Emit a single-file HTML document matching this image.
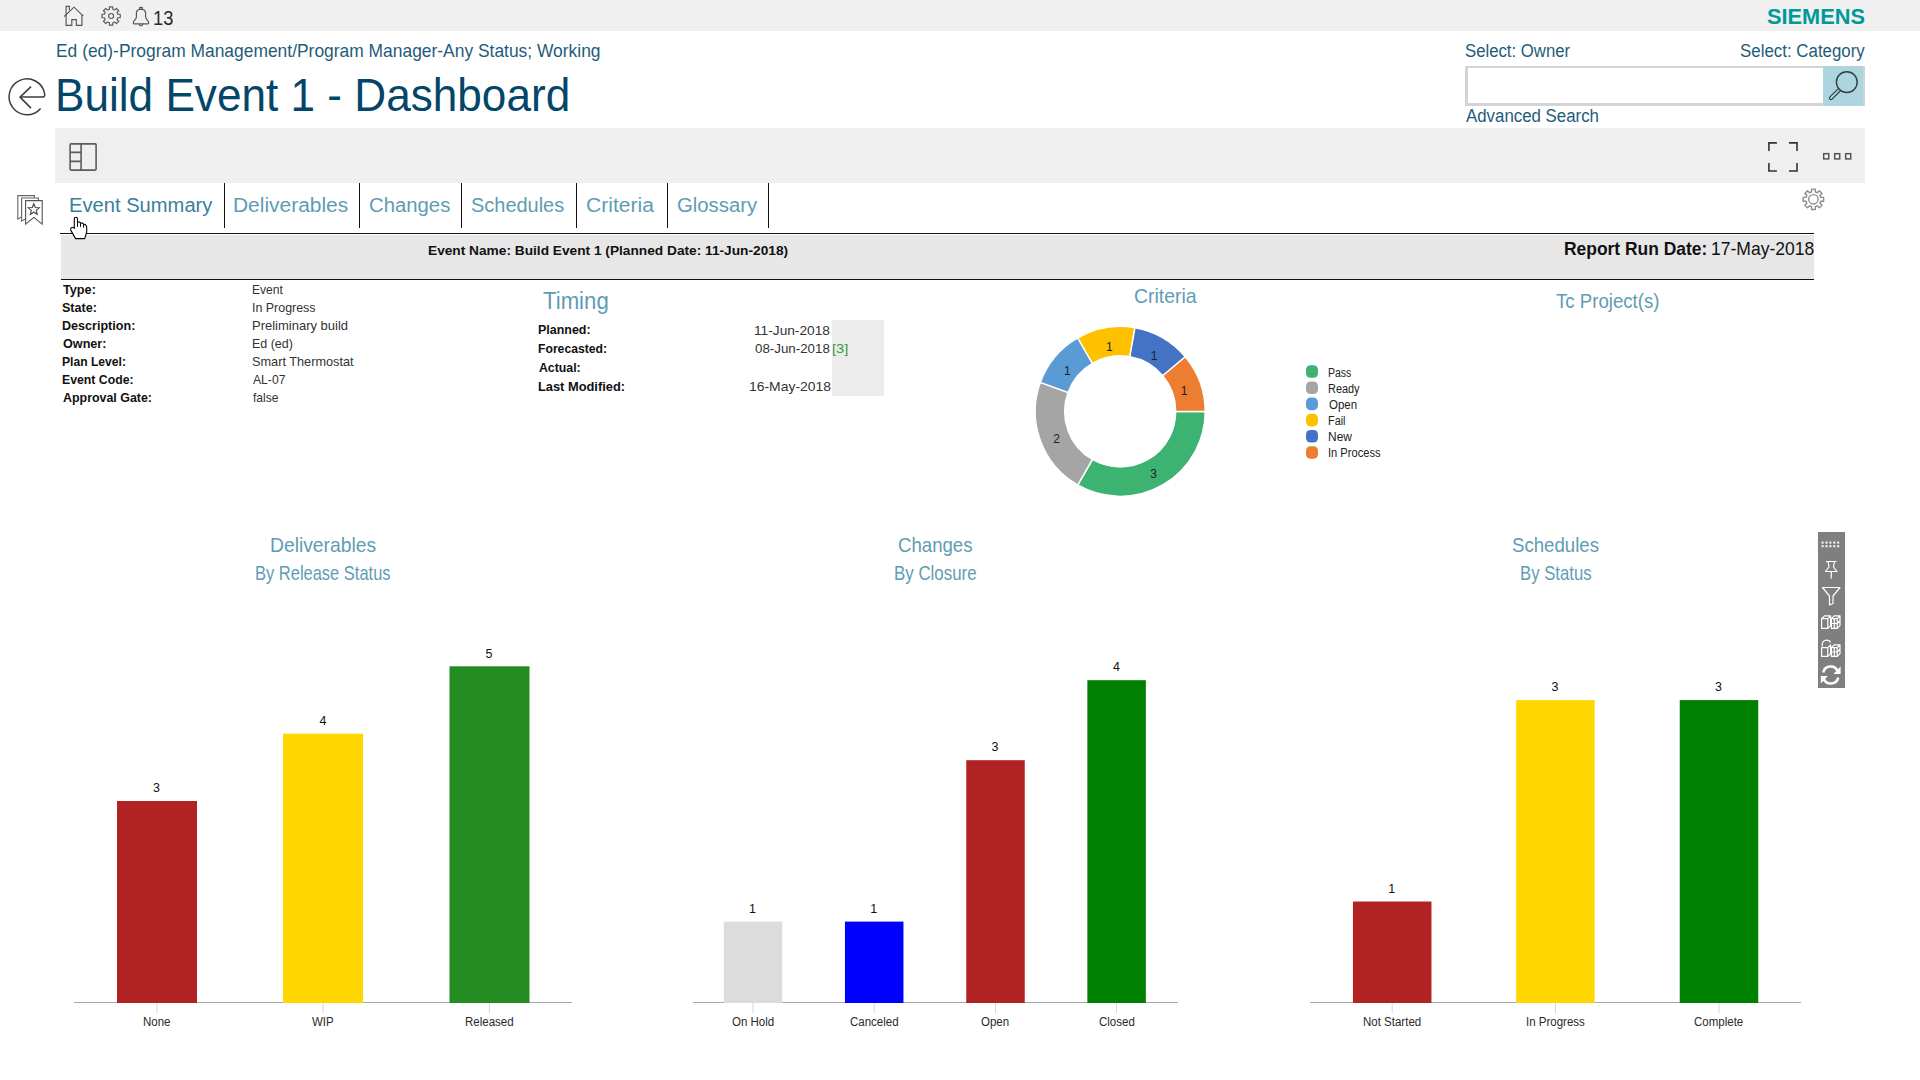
<!DOCTYPE html>
<html><head><meta charset="utf-8"><title>Build Event 1 - Dashboard</title>
<style>
html,body{margin:0;padding:0;background:#fff;width:1920px;height:1080px;overflow:hidden;position:relative}
.t{position:absolute;font-family:"Liberation Sans",sans-serif;line-height:1;white-space:nowrap}
</style></head><body>
<div style="position:absolute;left:0px;top:0px;width:1920px;height:31px;background:#f0f0f0;"></div><div style="position:absolute;left:1465px;top:66px;width:400px;height:40px;background:#fff;box-sizing:border-box;border:2px solid #d4d4d4;border-left-width:3px;border-bottom-width:3px;"></div><div style="position:absolute;left:1823px;top:66px;width:40px;height:39.5px;background:#acd5df;"></div><div style="position:absolute;left:55px;top:128px;width:1810px;height:55px;background:#efefef;"></div><div style="position:absolute;left:60px;top:233px;width:1754px;height:1px;background:#111;"></div><div style="position:absolute;left:61px;top:235px;width:1753px;height:44px;background:#e8e7e8;"></div><div style="position:absolute;left:61px;top:279px;width:1753px;height:1px;background:#111;"></div><div style="position:absolute;left:224px;top:183px;width:1px;height:45px;background:#111;"></div><div style="position:absolute;left:359px;top:183px;width:1px;height:45px;background:#111;"></div><div style="position:absolute;left:461px;top:183px;width:1px;height:45px;background:#111;"></div><div style="position:absolute;left:576px;top:183px;width:1px;height:45px;background:#111;"></div><div style="position:absolute;left:667px;top:183px;width:1px;height:45px;background:#111;"></div><div style="position:absolute;left:768px;top:183px;width:1px;height:45px;background:#111;"></div><div style="position:absolute;left:832px;top:320px;width:52px;height:76px;background:#ececec;"></div><div style="position:absolute;left:1818px;top:532px;width:27px;height:156px;background:#7f7f7f;"></div>
<svg width='1920' height='1080' style='position:absolute;left:0;top:0'><line x1='74' y1='1002.5' x2='572' y2='1002.5' stroke='#a8a8a8' stroke-width='1'/><rect x='117.00' y='801.00' width='80' height='202.00' fill='#b22222'/><line x1='157' y1='1003' x2='157' y2='1013' stroke='#d2d8de' stroke-width='1'/><rect x='283.00' y='733.70' width='80' height='269.30' fill='#ffd700'/><line x1='323' y1='1003' x2='323' y2='1013' stroke='#d2d8de' stroke-width='1'/><rect x='449.50' y='666.30' width='80' height='336.70' fill='#228b22'/><line x1='489.5' y1='1003' x2='489.5' y2='1013' stroke='#d2d8de' stroke-width='1'/><line x1='693' y1='1002.5' x2='1178' y2='1002.5' stroke='#a8a8a8' stroke-width='1'/><rect x='723.75' y='921.60' width='58.5' height='81.40' fill='#dcdcdc'/><line x1='753' y1='1003' x2='753' y2='1013' stroke='#d2d8de' stroke-width='1'/><rect x='844.95' y='921.60' width='58.5' height='81.40' fill='#0000ff'/><line x1='874.2' y1='1003' x2='874.2' y2='1013' stroke='#d2d8de' stroke-width='1'/><rect x='966.25' y='760.20' width='58.5' height='242.80' fill='#b22222'/><line x1='995.5' y1='1003' x2='995.5' y2='1013' stroke='#d2d8de' stroke-width='1'/><rect x='1087.35' y='680.20' width='58.5' height='322.80' fill='#008000'/><line x1='1116.6' y1='1003' x2='1116.6' y2='1013' stroke='#d2d8de' stroke-width='1'/><line x1='1310' y1='1002.5' x2='1801' y2='1002.5' stroke='#a8a8a8' stroke-width='1'/><rect x='1352.95' y='901.50' width='78.5' height='101.50' fill='#b22222'/><line x1='1392.2' y1='1003' x2='1392.2' y2='1013' stroke='#d2d8de' stroke-width='1'/><rect x='1516.15' y='700.10' width='78.5' height='302.90' fill='#ffd700'/><line x1='1555.4' y1='1003' x2='1555.4' y2='1013' stroke='#d2d8de' stroke-width='1'/><rect x='1679.75' y='700.10' width='78.5' height='302.90' fill='#008000'/><line x1='1719' y1='1003' x2='1719' y2='1013' stroke='#d2d8de' stroke-width='1'/><path d='M1205.20,411.40 A85,85 0 0 1 1077.70,485.01 L1092.45,459.46 A55.5,55.5 0 0 0 1175.70,411.40 Z' fill='#3cb371' stroke='#fff' stroke-width='1.5'/><path d='M1077.70,485.01 A85,85 0 0 1 1040.33,382.33 L1068.05,392.42 A55.5,55.5 0 0 0 1092.45,459.46 Z' fill='#a5a5a5' stroke='#fff' stroke-width='1.5'/><path d='M1040.33,382.33 A85,85 0 0 1 1077.70,337.79 L1092.45,363.34 A55.5,55.5 0 0 0 1068.05,392.42 Z' fill='#5b9bd5' stroke='#fff' stroke-width='1.5'/><path d='M1077.70,337.79 A85,85 0 0 1 1134.96,327.69 L1129.84,356.74 A55.5,55.5 0 0 0 1092.45,363.34 Z' fill='#ffc000' stroke='#fff' stroke-width='1.5'/><path d='M1134.96,327.69 A85,85 0 0 1 1185.31,356.76 L1162.72,375.73 A55.5,55.5 0 0 0 1129.84,356.74 Z' fill='#4472c4' stroke='#fff' stroke-width='1.5'/><path d='M1185.31,356.76 A85,85 0 0 1 1205.20,411.40 L1175.70,411.40 A55.5,55.5 0 0 0 1162.72,375.73 Z' fill='#ed7d31' stroke='#fff' stroke-width='1.5'/><rect x='1306' y='365.20' width='12' height='12.6' rx='4.6' fill='#3cb371'/><rect x='1306' y='381.40' width='12' height='12.6' rx='4.6' fill='#a5a5a5'/><rect x='1306' y='397.60' width='12' height='12.6' rx='4.6' fill='#5b9bd5'/><rect x='1306' y='413.80' width='12' height='12.6' rx='4.6' fill='#ffc000'/><rect x='1306' y='430.00' width='12' height='12.6' rx='4.6' fill='#4472c4'/><rect x='1306' y='446.20' width='12' height='12.6' rx='4.6' fill='#ed7d31'/></svg>
<svg width='1920' height='1080' style='position:absolute;left:0;top:0' fill='none'><g stroke='#555' stroke-width='1.15' stroke-linejoin='miter'><path d='M64.2,16.5 L74,7.2 L83.4,16.2'/><path d='M66.1,13.6 V25.4 H71.8 V19.6 H76.3 V25.4 H81.9 V15'/><path d='M66.1,13.6 V6.4 H69.4 V10.3'/></g><path d='M109.40,9.31 L109.40,6.86 L112.80,6.86 L112.80,9.31 L114.63,10.07 L116.36,8.33 L118.77,10.74 L117.03,12.47 L117.79,14.30 L120.24,14.30 L120.24,17.70 L117.79,17.70 L117.03,19.53 L118.77,21.26 L116.36,23.67 L114.63,21.93 L112.80,22.69 L112.80,25.14 L109.40,25.14 L109.40,22.69 L107.57,21.93 L105.84,23.67 L103.43,21.26 L105.17,19.53 L104.41,17.70 L101.96,17.70 L101.96,14.30 L104.41,14.30 L105.17,12.47 L103.43,10.74 L105.84,8.33 L107.57,10.07 Z' fill='none' stroke='#555' stroke-width='1.1' stroke-linejoin='round'/><circle cx='111.1' cy='16' r='2.5' fill='none' stroke='#555' stroke-width='1.1'/><g stroke='#555' stroke-width='1.15'><path d='M139.5,9.3 C137.4,9.9 136.4,11.3 136.4,13.1 V17.3 C136.4,18.6 133.3,21 133.3,22.4 V23.1 Q133.3,23.9 134.1,23.9 H147.9 Q148.7,23.9 148.7,23.1 V22.4 C148.7,21 145.6,18.6 145.6,17.3 V13.1 C145.6,11.3 144.6,9.9 142.5,9.3 Z'/><rect x='139.6' y='7.4' width='2.8' height='1.9' rx='0.9'/><path d='M139.1,24 C139.5,26.4 142.5,26.4 142.9,24'/></g><g stroke='#3c3c3c' stroke-width='1.5' stroke-linejoin='round'><path d='M40.6,108.4 A17.9,17.9 0 1 1 44.6,93.6 Q45.4,97.1 42,97.1 H20'/><path d='M31,86.6 L20,97.1 L31,108.1'/></g><g><circle cx='1846.8' cy='82.1' r='10.4' stroke='#2f3f44' stroke-width='1.4'/><line x1='1831' y1='98' x2='1838.6' y2='90.4' stroke='#2f3f44' stroke-width='4.2' stroke-linecap='round'/><line x1='1831' y1='98' x2='1838.6' y2='90.4' stroke='#acd5df' stroke-width='1.8' stroke-linecap='round'/></g><g stroke='#5c5c5c' stroke-width='1.6'><rect x='70.1' y='143.9' width='26' height='26.2' rx='1'/><path d='M81.1,143.9 V170.1'/><path d='M70.1,152.4 H81.1 M70.1,161.4 H81.1'/></g><g stroke='#333' stroke-width='1.6'><path d='M1768.9,150.9 V142.9 H1776.9'/><path d='M1789,142.9 H1797 V150.9'/><path d='M1768.9,163 V171 H1776.9'/><path d='M1789,171 H1797 V163'/></g><rect x='1823.7' y='153.7' width='5' height='5.2' stroke='#555' stroke-width='1.5' fill='#f8f8f8'/><rect x='1834.7' y='153.7' width='5' height='5.2' stroke='#555' stroke-width='1.5' fill='#f8f8f8'/><rect x='1845.7' y='153.7' width='5' height='5.2' stroke='#555' stroke-width='1.5' fill='#f8f8f8'/><g stroke='#666' stroke-width='1.1' fill='#fff'><path d='M17.8,219 V195.6 H34.4 V199 L21.6,199 L21.6,217 Z' fill='#fff'/><path d='M21.6,221 V198 H38.4 V201 L25.6,201 L25.6,219 Z' fill='#fff'/><path d='M25.6,224.2 V200.6 H42.2 V224.2 L33.9,217.4 Z' stroke='#555'/><path d='M33.80,203.80 L35.33,207.50 L39.32,207.81 L36.27,210.40 L37.21,214.29 L33.80,212.20 L30.39,214.29 L31.33,210.40 L28.28,207.81 L32.27,207.50 Z' stroke='#444' fill='none'/></g><path d='M1811.50,191.94 L1811.50,189.08 L1815.30,189.08 L1815.30,191.94 L1817.26,192.75 L1819.29,190.73 L1821.97,193.41 L1819.95,195.44 L1820.76,197.40 L1823.62,197.40 L1823.62,201.20 L1820.76,201.20 L1819.95,203.16 L1821.97,205.19 L1819.29,207.87 L1817.26,205.85 L1815.30,206.66 L1815.30,209.52 L1811.50,209.52 L1811.50,206.66 L1809.54,205.85 L1807.51,207.87 L1804.83,205.19 L1806.85,203.16 L1806.04,201.20 L1803.18,201.20 L1803.18,197.40 L1806.04,197.40 L1806.85,195.44 L1804.83,193.41 L1807.51,190.73 L1809.54,192.75 Z' fill='none' stroke='#8c8c8c' stroke-width='1.4' stroke-linejoin='round'/><circle cx='1813.4' cy='199.3' r='4.7' fill='none' stroke='#8c8c8c' stroke-width='1.4'/><g fill='#fff'><rect x='1821.60' y='541.60' width='2' height='2'/><rect x='1825.50' y='541.60' width='2' height='2'/><rect x='1829.40' y='541.60' width='2' height='2'/><rect x='1833.30' y='541.60' width='2' height='2'/><rect x='1837.20' y='541.60' width='2' height='2'/><rect x='1821.60' y='545.20' width='2' height='2'/><rect x='1825.50' y='545.20' width='2' height='2'/><rect x='1829.40' y='545.20' width='2' height='2'/><rect x='1833.30' y='545.20' width='2' height='2'/><rect x='1837.20' y='545.20' width='2' height='2'/></g><g stroke='#fff' stroke-width='1.2' stroke-linejoin='round'><path d='M1826,561.5 H1836.5 M1828,561.5 L1829,567 L1825.5,571.5 H1837 L1833.5,567 L1834.5,561.5 M1831.2,571.5 V578.5'/><path d='M1822.5,587.5 H1840 L1833,596 V603.5 L1829.5,605 V596 Z'/><path d='M1821.6,618.6 H1827.8 V628.4 H1821.6 Z M1821.6,618.6 L1824.4,615.8 H1830.6 L1827.8,618.6 M1830.6,615.8 V625.6 L1827.8,628.4'/><path d='M1831.4,618.6 H1837.2 V628.4 H1831.4 Z M1831.4,618.6 L1834.2,615.8 H1840 L1837.2,618.6 M1840,615.8 V625.6 L1837.2,628.4 M1831.4,623.5 H1837.2 M1834.3,618.6 V628.4 M1837.2,623.5 L1840,620.7'/><path d='M1821.6,647.6 H1827.8 V656.4 H1821.6 Z M1827.8,647.6 L1830.6,644.8 V653.6 L1827.8,656.4'/><path d='M1822.4,646.4 C1821.4,642.6 1823.6,640.2 1826.6,640.2 C1828.6,640.2 1830,641.2 1830.6,642.6'/><path d='M1831.4,647.6 H1837.2 V656.4 H1831.4 Z M1831.4,647.6 L1834.2,644.8 H1840 L1837.2,647.6 M1840,644.8 V653.6 L1837.2,656.4 M1831.4,652 H1837.2 M1834.3,647.6 V656.4 M1837.2,652 L1840,649.2'/></g><g stroke='#fff' stroke-width='2.6' fill='none'><path d='M1823.2,672.5 A7.6,7.6 0 0 1 1837.6,671'/><path d='M1838.2,677.5 A7.6,7.6 0 0 1 1823.8,679'/></g><path d='M1840.6,666.5 V674 H1833.5 Z' fill='#fff'/><path d='M1820.8,683.5 V676 H1827.9 Z' fill='#fff'/><path d='M74.3,228.2 V218.8 C74.3,216.7 77.5,216.7 77.5,218.8 V222.3 C78.6,221.8 80.2,222 80.5,223.2 C81.6,222.7 83.2,223.1 83.6,224.4 C84.9,224.1 86.7,225.1 86.7,227.6 V232 L84.7,238.6 H75.6 L71.4,231.4 C70.2,229.6 70.5,227 72.6,227.2 C73.3,227.3 73.9,227.8 74.3,228.4 Z' fill='#fff' stroke='#000' stroke-width='1.1' stroke-linejoin='round'/><path d='M77.5,222.3 V226.8 M80.5,223.2 V226.8 M83.6,224.4 V227.6' stroke='#000' stroke-width='1'/></svg>
<span class=t style="left:152.81px;top:9.00px;font-size:19.5px;font-weight:400;color:#2a2a2a;transform:scaleX(0.9375);transform-origin:0 0;">13</span><span class=t style="left:1766.51px;top:6.00px;font-size:22px;font-weight:700;color:#009999;transform:scaleX(0.9887);transform-origin:0 0;">SIEMENS</span><span class=t style="left:55.96px;top:41.80px;font-size:18.5px;font-weight:400;color:#1f5c7a;transform:scaleX(0.9412);transform-origin:0 0;">Ed (ed)-Program Management/Program Manager-Any Status; Working</span><span class=t style="left:55.46px;top:71.70px;font-size:46px;font-weight:400;color:#04466a;transform:scaleX(0.9594);transform-origin:0 0;">Build Event 1 - Dashboard</span><span class=t style="left:1464.77px;top:42.00px;font-size:18px;font-weight:400;color:#1f5c7a;transform:scaleX(0.9295);transform-origin:0 0;">Select: Owner</span><span class=t style="left:1740.06px;top:42.00px;font-size:18px;font-weight:400;color:#1f5c7a;transform:scaleX(0.9379);transform-origin:0 0;">Select: Category</span><span class=t style="left:1465.50px;top:107.00px;font-size:18px;font-weight:400;color:#1f5c7a;transform:scaleX(0.9355);transform-origin:0 0;">Advanced Search</span><span class=t style="left:69.38px;top:194.80px;font-size:20px;font-weight:400;color:#3a7f9a;transform:scaleX(1.0079);transform-origin:0 0;">Event Summary</span><span class=t style="left:232.91px;top:194.60px;font-size:20px;font-weight:400;color:#5f9cb4;transform:scaleX(1.0467);transform-origin:0 0;">Deliverables</span><span class=t style="left:368.98px;top:194.60px;font-size:20px;font-weight:400;color:#5f9cb4;transform:scaleX(1.0154);transform-origin:0 0;">Changes</span><span class=t style="left:471.20px;top:194.60px;font-size:20px;font-weight:400;color:#5f9cb4;transform:scaleX(0.9978);transform-origin:0 0;">Schedules</span><span class=t style="left:586.15px;top:194.60px;font-size:20px;font-weight:400;color:#5f9cb4;transform:scaleX(1.0531);transform-origin:0 0;">Criteria</span><span class=t style="left:676.78px;top:194.60px;font-size:20px;font-weight:400;color:#5f9cb4;transform:scaleX(1.0154);transform-origin:0 0;">Glossary</span><span class=t style="left:428.40px;top:244.00px;font-size:13.7px;font-weight:700;color:#111;transform:scaleX(1.0008);transform-origin:0 0;">Event Name: Build Event 1 (Planned Date: 11-Jun-2018)</span><span class=t style="left:1564.02px;top:240.70px;font-size:17.7px;font-weight:700;color:#111;transform:scaleX(0.9846);transform-origin:0 0;">Report Run Date:</span><span class=t style="left:1710.71px;top:240.70px;font-size:17.7px;font-weight:400;color:#111;transform:scaleX(0.9913);transform-origin:0 0;">17-May-2018</span><span class=t style="left:62.50px;top:283.20px;font-size:13.2px;font-weight:700;color:#111;transform:scaleX(0.9606);transform-origin:0 0;">Type:</span><span class=t style="left:252.16px;top:284.20px;font-size:12.8px;font-weight:400;color:#333;transform:scaleX(0.9438);transform-origin:0 0;">Event</span><span class=t style="left:61.55px;top:301.10px;font-size:13.2px;font-weight:700;color:#111;transform:scaleX(0.9514);transform-origin:0 0;">State:</span><span class=t style="left:252.13px;top:302.10px;font-size:12.8px;font-weight:400;color:#333;transform:scaleX(0.9703);transform-origin:0 0;">In Progress</span><span class=t style="left:61.55px;top:319.20px;font-size:13.2px;font-weight:700;color:#111;transform:scaleX(0.9533);transform-origin:0 0;">Description:</span><span class=t style="left:252.08px;top:320.20px;font-size:12.8px;font-weight:400;color:#333;transform:scaleX(1.0151);transform-origin:0 0;">Preliminary build</span><span class=t style="left:62.50px;top:336.90px;font-size:13.2px;font-weight:700;color:#111;transform:scaleX(0.9568);transform-origin:0 0;">Owner:</span><span class=t style="left:252.13px;top:337.90px;font-size:12.8px;font-weight:400;color:#333;transform:scaleX(0.9725);transform-origin:0 0;">Ed (ed)</span><span class=t style="left:61.58px;top:355.00px;font-size:13.2px;font-weight:700;color:#111;transform:scaleX(0.9191);transform-origin:0 0;">Plan Level:</span><span class=t style="left:252.11px;top:356.00px;font-size:12.8px;font-weight:400;color:#333;transform:scaleX(0.9941);transform-origin:0 0;">Smart Thermostat</span><span class=t style="left:61.57px;top:372.75px;font-size:13.2px;font-weight:700;color:#111;transform:scaleX(0.9307);transform-origin:0 0;">Event Code:</span><span class=t style="left:253.10px;top:373.75px;font-size:12.8px;font-weight:400;color:#333;transform:scaleX(0.9500);transform-origin:0 0;">AL-07</span><span class=t style="left:62.50px;top:390.70px;font-size:13.2px;font-weight:700;color:#111;transform:scaleX(0.9415);transform-origin:0 0;">Approval Gate:</span><span class=t style="left:253.10px;top:391.70px;font-size:12.8px;font-weight:400;color:#333;transform:scaleX(0.9407);transform-origin:0 0;">false</span><span class=t style="left:543.00px;top:290.00px;font-size:23px;font-weight:400;color:#5f9cb4;transform:scaleX(0.9642);transform-origin:0 0;">Timing</span><span class=t style="left:537.76px;top:322.90px;font-size:13.2px;font-weight:700;color:#111;transform:scaleX(0.9444);transform-origin:0 0;">Planned:</span><span class=t style="left:537.78px;top:341.80px;font-size:13.2px;font-weight:700;color:#111;transform:scaleX(0.9233);transform-origin:0 0;">Forecasted:</span><span class=t style="left:538.70px;top:360.50px;font-size:13.2px;font-weight:700;color:#111;transform:scaleX(0.9318);transform-origin:0 0;">Actual:</span><span class=t style="left:537.73px;top:379.80px;font-size:13.2px;font-weight:700;color:#111;transform:scaleX(0.9736);transform-origin:0 0;">Last Modified:</span><span class=t style="left:754.36px;top:323.50px;font-size:13.2px;font-weight:400;color:#333;transform:scaleX(1.0389);transform-origin:0 0;">11-Jun-2018</span><span class=t style="left:755.40px;top:342.30px;font-size:13.2px;font-weight:400;color:#333;transform:scaleX(1.0108);transform-origin:0 0;">08-Jun-2018</span><span class=t style="left:748.94px;top:380.30px;font-size:13.2px;font-weight:400;color:#333;transform:scaleX(1.0553);transform-origin:0 0;">16-May-2018</span><span class=t style="left:832.38px;top:342.30px;font-size:13.2px;font-weight:400;color:#3a9a3a;transform:scaleX(1.1154);transform-origin:0 0;">[3]</span><span class=t style="left:1134.05px;top:286.30px;font-size:20.4px;font-weight:400;color:#5f9cb4;transform:scaleX(0.9538);transform-origin:0 0;">Criteria</span><span class=t style="left:1556.00px;top:289.70px;font-size:21px;font-weight:400;color:#5f9cb4;transform:scaleX(0.8862);transform-origin:0 0;">Tc Project(s)</span><span class=t style="left:1328.12px;top:366.50px;font-size:12px;font-weight:400;color:#222;transform:scaleX(0.8760);transform-origin:0 0;">Pass</span><span class=t style="left:1328.09px;top:382.60px;font-size:12px;font-weight:400;color:#222;transform:scaleX(0.9088);transform-origin:0 0;">Ready</span><span class=t style="left:1329.00px;top:398.60px;font-size:12px;font-weight:400;color:#222;transform:scaleX(0.9552);transform-origin:0 0;">Open</span><span class=t style="left:1328.09px;top:414.60px;font-size:12px;font-weight:400;color:#222;transform:scaleX(0.9056);transform-origin:0 0;">Fail</span><span class=t style="left:1328.00px;top:430.70px;font-size:12px;font-weight:400;color:#222;transform:scaleX(0.9957);transform-origin:0 0;">New</span><span class=t style="left:1328.07px;top:447.20px;font-size:12px;font-weight:400;color:#222;transform:scaleX(0.9273);transform-origin:0 0;">In Process</span><span class=t style="left:269.75px;top:535.70px;font-size:19.8px;font-weight:400;color:#5f9cb4;transform:scaleX(0.9745);transform-origin:0 0;">Deliverables</span><span class=t style="left:255.03px;top:563.50px;font-size:19.8px;font-weight:400;color:#5f9cb4;transform:scaleX(0.8331);transform-origin:0 0;">By Release Status</span><span class=t style="left:897.66px;top:535.80px;font-size:19.8px;font-weight:400;color:#5f9cb4;transform:scaleX(0.9410);transform-origin:0 0;">Changes</span><span class=t style="left:893.79px;top:563.90px;font-size:19.8px;font-weight:400;color:#5f9cb4;transform:scaleX(0.8532);transform-origin:0 0;">By Closure</span><span class=t style="left:1512.26px;top:535.80px;font-size:19.8px;font-weight:400;color:#5f9cb4;transform:scaleX(0.9418);transform-origin:0 0;">Schedules</span><span class=t style="left:1520.11px;top:563.90px;font-size:19.8px;font-weight:400;color:#5f9cb4;transform:scaleX(0.8451);transform-origin:0 0;">By Status</span><span class=t style="left:153.00px;top:782.20px;font-size:12.5px;font-weight:400;color:#111;">3</span><span class=t style="left:142.74px;top:1015.70px;font-size:12.5px;font-weight:400;color:#2a2a2a;transform:scaleX(0.9200);transform-origin:0 0;">None</span><span class=t style="left:319.50px;top:714.90px;font-size:12.5px;font-weight:400;color:#111;">4</span><span class=t style="left:312.42px;top:1015.70px;font-size:12.5px;font-weight:400;color:#2a2a2a;transform:scaleX(0.9200);transform-origin:0 0;">WIP</span><span class=t style="left:485.50px;top:647.50px;font-size:12.5px;font-weight:400;color:#111;">5</span><span class=t style="left:465.12px;top:1015.70px;font-size:12.5px;font-weight:400;color:#2a2a2a;transform:scaleX(0.9200);transform-origin:0 0;">Released</span><span class=t style="left:749.00px;top:902.80px;font-size:12.5px;font-weight:400;color:#111;">1</span><span class=t style="left:731.84px;top:1015.70px;font-size:12.5px;font-weight:400;color:#2a2a2a;transform:scaleX(0.9200);transform-origin:0 0;">On Hold</span><span class=t style="left:870.20px;top:902.80px;font-size:12.5px;font-weight:400;color:#111;">1</span><span class=t style="left:849.82px;top:1015.70px;font-size:12.5px;font-weight:400;color:#2a2a2a;transform:scaleX(0.9200);transform-origin:0 0;">Canceled</span><span class=t style="left:991.50px;top:741.40px;font-size:12.5px;font-weight:400;color:#111;">3</span><span class=t style="left:981.24px;top:1015.70px;font-size:12.5px;font-weight:400;color:#2a2a2a;transform:scaleX(0.9200);transform-origin:0 0;">Open</span><span class=t style="left:1113.10px;top:661.40px;font-size:12.5px;font-weight:400;color:#111;">4</span><span class=t style="left:1098.66px;top:1015.70px;font-size:12.5px;font-weight:400;color:#2a2a2a;transform:scaleX(0.9200);transform-origin:0 0;">Closed</span><span class=t style="left:1388.20px;top:882.70px;font-size:12.5px;font-weight:400;color:#111;">1</span><span class=t style="left:1362.76px;top:1015.70px;font-size:12.5px;font-weight:400;color:#2a2a2a;transform:scaleX(0.9200);transform-origin:0 0;">Not Started</span><span class=t style="left:1551.40px;top:681.30px;font-size:12.5px;font-weight:400;color:#111;">3</span><span class=t style="left:1525.50px;top:1015.70px;font-size:12.5px;font-weight:400;color:#2a2a2a;transform:scaleX(0.9200);transform-origin:0 0;">In Progress</span><span class=t style="left:1715.00px;top:681.30px;font-size:12.5px;font-weight:400;color:#111;">3</span><span class=t style="left:1694.16px;top:1015.70px;font-size:12.5px;font-weight:400;color:#2a2a2a;transform:scaleX(0.9200);transform-origin:0 0;">Complete</span><span class=t style="left:1150.30px;top:467.70px;font-size:12px;font-weight:400;color:#222;">3</span><span class=t style="left:1053.20px;top:432.80px;font-size:12px;font-weight:400;color:#222;">2</span><span class=t style="left:1064.10px;top:364.70px;font-size:12px;font-weight:400;color:#222;">1</span><span class=t style="left:1105.90px;top:341.00px;font-size:12px;font-weight:400;color:#222;">1</span><span class=t style="left:1150.80px;top:349.80px;font-size:12px;font-weight:400;color:#222;">1</span><span class=t style="left:1180.70px;top:385.00px;font-size:12px;font-weight:400;color:#222;">1</span>
</body></html>
